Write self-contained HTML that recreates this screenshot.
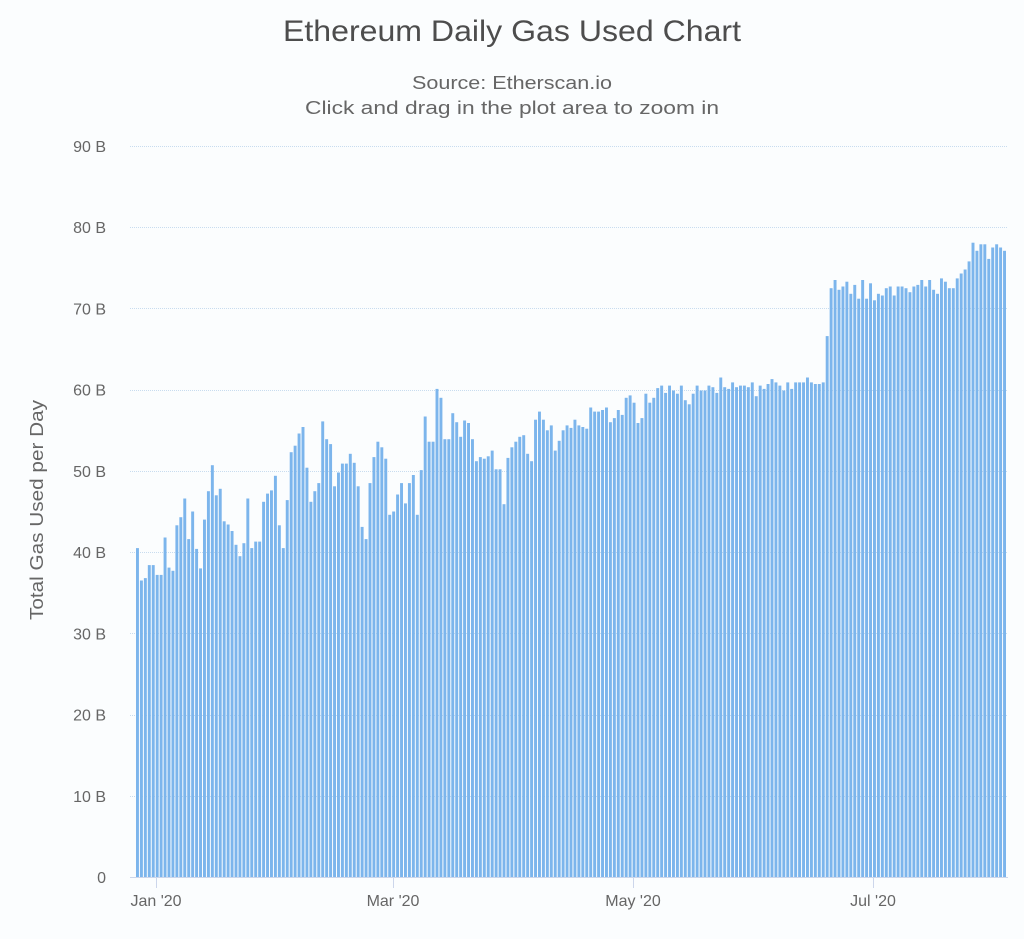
<!DOCTYPE html>
<html><head><meta charset="utf-8"><style>
html,body{margin:0;padding:0;background:#fbfdfe;}
svg{display:block;font-family:"Liberation Sans",sans-serif;}
</style></head><body>
<svg id="s" width="1024" height="939" viewBox="0 0 1024 939" xmlns="http://www.w3.org/2000/svg">
<rect width="1024" height="939" fill="#fbfdfe"/>
<text x="512" y="41" text-anchor="middle" font-size="30" fill="#4d4d4d" textLength="458" lengthAdjust="spacingAndGlyphs">Ethereum Daily Gas Used Chart</text>
<text x="512" y="89" text-anchor="middle" font-size="18" fill="#666" textLength="200" lengthAdjust="spacingAndGlyphs">Source: Etherscan.io</text>
<text x="512" y="114" text-anchor="middle" font-size="18" fill="#666" textLength="414" lengthAdjust="spacingAndGlyphs">Click and drag in the plot area to zoom in</text>
<g id="grid"></g>
<g id="bars"></g>
<line x1="130" y1="877.5" x2="1008" y2="877.5" stroke="#ccd6eb" stroke-width="1"/>
<g stroke="#ccd6eb" stroke-width="1">
<line x1="156.5" y1="878" x2="156.5" y2="888"/>
<line x1="393.5" y1="878" x2="393.5" y2="888"/>
<line x1="633.5" y1="878" x2="633.5" y2="888"/>
<line x1="873.5" y1="878" x2="873.5" y2="888"/>
</g>
<g font-size="16" fill="#666" text-anchor="middle">
<text x="156" y="906">Jan '20</text>
<text x="393" y="906">Mar '20</text>
<text x="633" y="906">May '20</text>
<text x="873" y="906">Jul '20</text>
</g>
<text transform="translate(43,510) rotate(-90)" text-anchor="middle" font-size="18" fill="#666" textLength="220" lengthAdjust="spacingAndGlyphs">Total Gas Used per Day</text>
</svg>
<script>
var d=[40.5,36.5,36.8,38.4,38.4,37.2,37.2,41.8,38.1,37.7,43.3,44.3,46.6,41.6,45,40.4,38,44,47.5,50.7,47,47.8,43.8,43.4,42.6,40.9,39.5,41.1,46.6,40.5,41.3,41.3,46.2,47.2,47.6,49.4,43.3,40.5,46.4,52.3,53.1,54.6,55.4,50.4,46.2,47.5,48.5,56.1,53.9,53.3,48.1,49.8,50.9,50.9,52.1,51,48.1,43.1,41.6,48.5,51.7,53.6,52.9,51.5,44.6,45,47.1,48.5,46,48.5,49.5,44.6,
50.1,56.7,53.6,53.6,60.1,59.0,53.9,53.9,57.1,56.0,54.2,56.2,55.9,53.9,51.2,51.7,51.5,51.8,52.5,50.2,50.2,45.9,51.6,52.9,53.6,54.2,54.4,52.1,51.2,56.3,57.3,56.3,55.0,55.6,52.5,53.7,55.0,55.6,55.3,56.3,55.6,55.4,55.2,57.8,57.3,57.3,57.5,57.8,56.0,56.5,57.5,56.9,59.0,59.3,58.4,55.9,56.5,59.5,58.4,59.0,60.2,60.5,59.6,60.5,59.9,59.5,60.5,58.7,58.2,59.5,60.5,59.9,59.9,60.5,60.3,59.6,
61.5,60.3,60.1,60.9,60.3,60.5,60.5,60.3,60.9,59.2,60.5,60.1,60.7,61.3,60.9,60.5,59.9,60.9,60.1,60.9,60.9,60.9,61.5,60.9,60.7,60.7,60.9,66.6,72.5,73.5,72.3,72.7,73.3,71.8,72.9,71.2,73.5,71.2,73.1,71.0,71.8,71.6,72.5,72.7,71.6,72.7,72.7,72.5,72.0,72.7,72.9,73.5,72.7,73.5,72.3,71.8,73.7,73.3,72.5,72.5,73.7,74.3,74.8,75.8,78.1,77.1,77.9,77.9,76.1,77.5,77.9,77.5,77.1];
var ns="http://www.w3.org/2000/svg",g=document.getElementById('bars'),gr=document.getElementById('grid');
function y(v){return 877-v*8.122;}
for(var i=1;i<=9;i++){var l=document.createElementNS(ns,'line');var yy=Math.round(y(i*10))+0.5;
l.setAttribute('x1',130);l.setAttribute('x2',1008);l.setAttribute('y1',yy);l.setAttribute('y2',yy);
l.setAttribute('stroke','#c8dcef');l.setAttribute('stroke-width','1');l.setAttribute('stroke-dasharray','1,1');gr.appendChild(l);}
for(var i=0;i<=9;i++){var t=document.createElementNS(ns,'text');t.setAttribute('x',106);t.setAttribute('y',y(i*10)+6);
t.setAttribute('text-anchor','end');t.setAttribute('font-size','16');t.setAttribute('fill','#666');t.textContent=i==0?'0':(i*10)+' B';gr.appendChild(t);}
var x0=136,x1=1007,n=d.length,w=(x1-x0)/n;
for(var i=0;i<n;i++){var r=document.createElementNS(ns,'rect');var yy=y(d[i]);
r.setAttribute('x',(x0+i*w).toFixed(2));r.setAttribute('width',(w-1).toFixed(2));r.setAttribute('y',yy.toFixed(1));
r.setAttribute('height',(877-yy).toFixed(1));r.setAttribute('fill','#7cb5ec');g.appendChild(r);}
</script>
</body></html>
